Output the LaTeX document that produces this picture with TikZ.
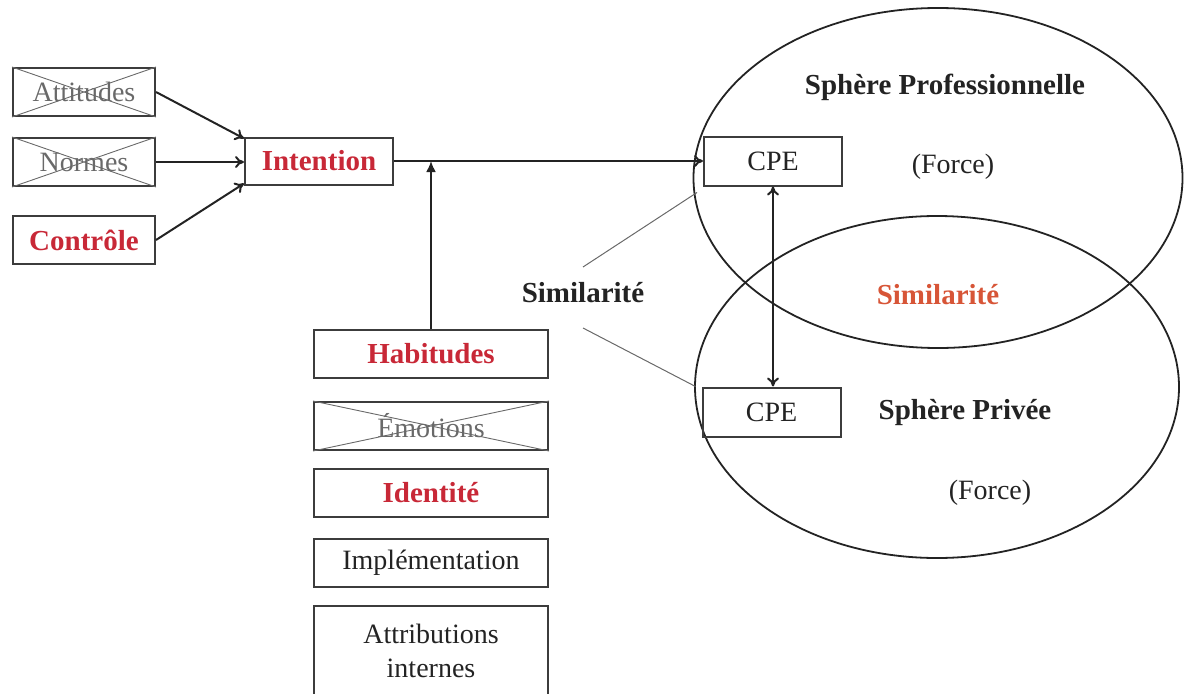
\documentclass[tikz,border=0pt]{standalone}
\usepackage{fontspec}
\setmainfont{Liberation Serif}
\usetikzlibrary{shapes.geometric,arrows.meta}
\definecolor{ink}{RGB}{35,35,35}
\definecolor{boxline}{RGB}{60,60,60}
\definecolor{redtxt}{RGB}{200,40,55}
\definecolor{orangetxt}{RGB}{215,85,55}
\definecolor{greytxt}{RGB}{105,105,105}
\tikzset{
  txt/.style={font=\fontsize{28}{32}\selectfont, text=ink, inner sep=0pt},
  boldtxt/.style={font=\fontsize{29}{33}\selectfont\bfseries},
  boxnode/.style={draw=boxline, line width=2pt, txt, align=center},
  leftbox/.style={boxnode, minimum width=142pt, minimum height=48pt},
  colbox/.style={boxnode, minimum width=234pt, minimum height=48pt},
  cpebox/.style={boxnode, minimum width=138pt, minimum height=49pt},
  redbold/.style={text=redtxt, boldtxt},
  crossed/.style={text=greytxt},
  crossline/.style={draw=greytxt, line width=0.9pt},
  arr/.style={draw=ink, line width=2pt, -{To[length=9pt,width=12pt]}},
  thinline/.style={draw=greytxt, line width=1pt},
  sphere/.style={ellipse, draw=ink, line width=1.8pt, inner sep=0pt}
}
\begin{document}
\begin{tikzpicture}[x=1pt, y=-1pt]
\useasboundingbox (0,0) rectangle (1204,693);
\clip (0,0) rectangle (1204,693);

% the two spheres
\node[sphere, minimum width=489pt, minimum height=340pt] (pro) at (938,178) {};
\node[sphere, minimum width=484pt, minimum height=342pt] (priv) at (937,387) {};

% determinants on the left
\node[leftbox, crossed] (att) at (84,92) {Attitudes};
\node[leftbox, crossed] (nor) at (84,162) {Normes};
\node[leftbox, redbold] (con) at (84,240) {Contrôle};
\draw[crossline] (att.north west) -- (att.south east) (att.south west) -- (att.north east);
\draw[crossline] (nor.north west) -- (nor.south east) (nor.south west) -- (nor.north east);

\node[boxnode, redbold, minimum width=148pt, minimum height=47pt] (int) at (319,161) {Intention};

% column of moderators
\node[colbox, redbold] (hab) at (431,354) {Habitudes};
\node[colbox, crossed] (emo) at (431,426) {Émotions};
\draw[crossline] (emo.north west) -- (emo.south east) (emo.south west) -- (emo.north east);
\node[colbox, redbold] (ide) at (431,492.5) {Identité};
\node[colbox] (imp) at (431,562.5) {Implémentation};
\node[boxnode, minimum width=234pt, minimum height=96pt] (atr) at (431,654) {};
\node[txt] (atr1) at (431,634) {Attributions};
\node[txt] (atr2) at (431,668) {internes};

% CPE boxes
\node[cpebox] (cpe1) at (773,161) {CPE};
\node[cpebox] (cpe2) at (771.5,412) {CPE};

% labels in the spheres
\node[txt, boldtxt] (proT) at (945,87) {Sphère Professionnelle};
\node[txt] (proF) at (953,167) {(Force)};
\node[txt, text=orangetxt, boldtxt] (simIn) at (938,295) {Similarité};
\node[txt, boldtxt] (privT) at (965,413) {Sphère Privée};
\node[txt] (privF) at (990,493) {(Force)};

% similarity label between the spheres
\node[txt, boldtxt] (sim) at (583,293) {Similarité};
\coordinate (simTop) at (583,267);
\coordinate (simBot) at (583,328);

% connectors
\draw[arr] (att.east) -- ([yshift=-2pt]int.north west);
\draw[arr] (nor.east) -- (int.west |- nor.east);
\draw[arr] (con.east) -- ([yshift=2pt]int.south west);
\draw[arr] (int.east) -- (cpe1.west);
\draw[draw=ink, line width=2pt, -{Latex[length=11pt,width=10pt]}] (hab.north) -- (hab.north |- int.east);
\draw[draw=ink, line width=2pt, {To[length=9pt,width=12pt]}-{To[length=9pt,width=12pt]}] (cpe1.south) -- (cpe1.south |- cpe2.north);
\draw[thinline] (simTop) -- ([xshift=-6pt,yshift=-6pt]cpe1.south west);
\draw[thinline] (simBot) -- ([xshift=-6pt]cpe2.north west);
\end{tikzpicture}
\end{document}
